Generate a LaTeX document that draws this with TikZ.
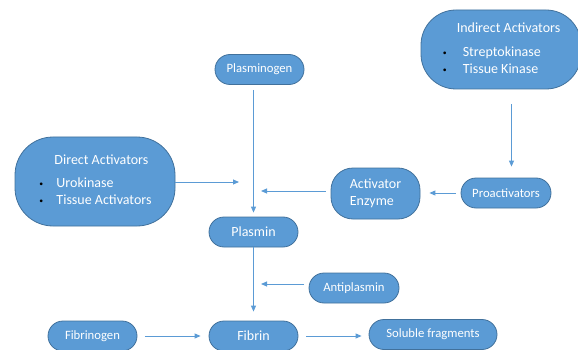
\documentclass[tikz,border=0pt]{standalone}
\usepackage{fontspec}
\setmainfont{Carlito}
\usetikzlibrary{arrows.meta}
\definecolor{boxblue}{HTML}{5B9BD5}
\definecolor{boxedge}{HTML}{41719C}
\newcommand{\listdot}{\textcolor{black}{\raisebox{1pt}{\scalebox{0.55}{\textbullet}}}}

\begin{document}
\begin{tikzpicture}[x=1pt, y=-1pt,
    stage/.style={draw=boxedge, line width=0.8pt, fill=boxblue, text=white,
      rounded corners=15pt, inner sep=0pt, minimum height=30pt,
      minimum width=89pt, font=\fontsize{12.7}{15}\selectfont},
    bigstage/.style={stage, font=\fontsize{14}{17}\selectfont},
    group/.style={bigstage, rounded corners=38pt},
    flow/.style={draw=boxblue, line width=0.9pt,
      -{Triangle[length=6pt,width=5pt]}}]
      \useasboundingbox (0,0) rectangle (578,350);
      % Plasminogen:
      %   the inactive form, turned into plasmin
      \node[stage] (plasminogen) at (259.5,69.5) {Plasminogen};
      % Indirect activators:
      %   work through the proactivators
      \node[group, minimum width=160pt, minimum height=79pt, rounded corners=35pt] (indirect) at (501,49.5) {%
        \begin{tabular}{@{}l@{}}
          \hspace{15pt}Indirect Activators\\[7pt]
          \makebox[21pt][l]{\hspace{1pt}\listdot}Streptokinase\\
          \makebox[21pt][l]{\hspace{1pt}\listdot}Tissue Kinase
        \end{tabular}};
      % Direct activators:
      %   act on plasminogen themselves
      \node[group, minimum width=160pt, minimum height=89pt] (direct) at (95,181.5) {%
        \begin{tabular}{@{}l@{}}
          \hspace{16pt}Direct Activators\\[6pt]
          \makebox[18pt][l]{\hspace{1pt}\listdot}Urokinase\\
          \makebox[18pt][l]{\hspace{1pt}\listdot}Tissue Activators
        \end{tabular}};
      \node[bigstage, minimum height=51pt, rounded corners=22pt, align=left] (enzyme) at (375.5,193.5) {Activator\\Enzyme};
      \node[stage, minimum width=90pt] (proact) at (506,193) {Proactivators};
      \node[bigstage] (plasmin) at (253.5,232) {Plasmin};
      \node[stage, minimum width=90pt] (antiplasmin) at (354,288) {Antiplasmin};
      % bottom row
      \node[stage] (fibrinogen) at (92.5,336) {Fibrinogen};
      \node[bigstage] (fibrin) at (253.5,336) {Fibrin};
      \node[stage, minimum width=128pt] (fragments) at (433,334.5) {Soluble fragments};
      % free ends of the side arrows, next to the main line
      \coordinate (directend) at (239,182);
      \coordinate (enzymeend) at (261,191);
      \coordinate (antiend) at (261,284);
      \draw[flow, shorten <=5pt, shorten >=4pt] (plasmin.north |- plasminogen.south) -- (plasmin.north);
      \draw[flow, shorten <=15pt, shorten >=11pt] ([xshift=5.5pt]proact.north |- indirect.south) -- ([xshift=5.5pt]proact.north);
      \draw[flow, shorten >=9pt, shorten <=5pt] (proact.west) -- (enzyme.east |- proact.west);
      \draw[flow, shorten <=5pt] (enzyme.west |- enzymeend) -- (enzymeend);
      \draw[flow] (direct.east |- directend) -- (directend);
      \draw[flow, shorten >=9pt] (plasmin.south) -- (fibrin.north);
      \draw[flow, shorten <=4.5pt] (antiplasmin.west |- antiend) -- (antiend);
      \draw[flow, shorten <=7.5pt, shorten >=8pt] (fibrinogen.east) -- (fibrin.west);
      \draw[flow, shorten <=8pt, shorten >=7pt] (fibrin.east) -- (fibrin.east -| fragments.west);
\end{tikzpicture}
\end{document}
